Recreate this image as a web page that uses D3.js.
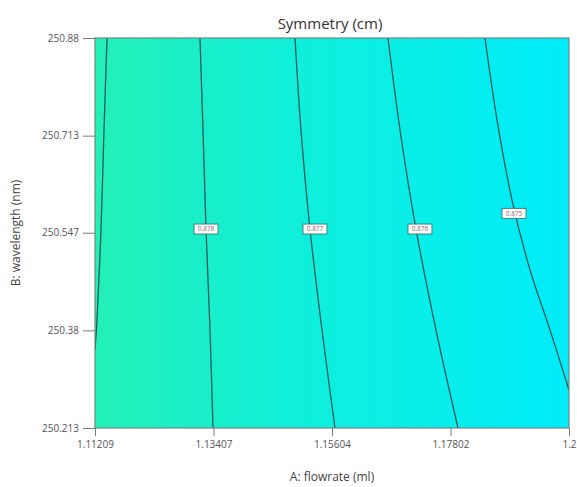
<!DOCTYPE html>
<html>
<head>
<meta charset="utf-8">
<script src="https://cdn.jsdelivr.net/npm/d3@7"></script>
<style>
  body { margin: 0; background: #fff; }
  text { font-family: "Open Sans", "Noto Sans", sans-serif; }
</style>
</head>
<body>
<script>
//chart setup
const width = 577;
const height = 487;
const margin = {top: 38, right: 8, bottom: 59, left: 95};

//axis ticks
const xTicks = [1.11209, 1.13407, 1.15604, 1.17802, 1.2];
const yTicks = [250.213, 250.38, 250.547, 250.713, 250.88];

//contour levels and their traced lines, [flowrate, wavelength]
const levels = [0.879, 0.878, 0.877, 0.876, 0.875];
const line879 = [[1.11432, 250.88], [1.11376, 250.7227], [1.11320, 250.5516], [1.11246, 250.3977], [1.11209, 250.3464]];
const line878 = [[1.13156, 250.88], [1.13212, 250.7227], [1.13268, 250.5533], [1.13342, 250.3806], [1.13397, 250.213]];
const line877 = [[1.14918, 250.88], [1.15029, 250.7227], [1.15196, 250.5533], [1.15419, 250.3806], [1.15660, 250.213]];
const line876 = [[1.16643, 250.88], [1.16866, 250.7227], [1.17162, 250.5533], [1.17533, 250.3806], [1.17941, 250.213]];
const line875 = [[1.18442, 250.88], [1.18665, 250.7398], [1.18943, 250.6029], [1.19277, 250.4832], [1.19648, 250.3806], [1.2, 250.278]];
const contourLines = [line879, line878, line877, line876, line875];
//label position on each line (null = no label shown)
const labelAt = [null, [1.13268, 250.5533], [1.15289, 250.5533], [1.17236, 250.5533], [1.18980, 250.580]];
const labelText = ["", "0.878", "0.877", "0.876", "0.875"];

//response at the left and right edge (middle height)
const edgeValues = [0.8792, 0.8744];

const x = d3.scaleLinear().domain([1.11209, 1.2]).range([margin.left, width - margin.right]);
const y = d3.scaleLinear().domain([250.213, 250.88]).range([height - margin.bottom, margin.top]);
const color = d3.scaleLinear()
  .domain([0.8792, 0.8770, 0.8744])
  .range(["#24f0b4", "#0eefdc", "#00ecfa"]);

let svg = d3.select("body").append("svg")
  .attr("width", width)
  .attr("height", height);

let defs = svg.append("defs");
defs.append("clipPath").attr("id", "plotclip")
  .append("rect")
  .attr("x", x.range()[0]).attr("y", y.range()[1])
  .attr("width", x.range()[1] - x.range()[0])
  .attr("height", y.range()[0] - y.range()[1]);

//horizontal gradient, stops where the contours cross mid height
let stops = [{off: 0, c: color(edgeValues[0])}];
contourLines.forEach((ln, i) => {
  let mid = ln.reduce((a, b) => Math.abs(b[1] - 250.547) < Math.abs(a[1] - 250.547) ? b : a);
  stops.push({off: (x(mid[0]) - x.range()[0]) / (x.range()[1] - x.range()[0]), c: color(levels[i])});
});
stops.push({off: 1, c: color(edgeValues[1])});
let grad = defs.append("linearGradient").attr("id", "fillgrad")
  .attr("x1", 0).attr("x2", 1).attr("y1", 0).attr("y2", 0);
grad.selectAll("stop").data(stops).enter().append("stop")
  .attr("offset", d => d.off)
  .attr("stop-color", d => d.c);

let plot = svg.append("g").attr("clip-path", "url(#plotclip)");
plot.append("rect")
  .attr("x", x.range()[0]).attr("y", y.range()[1])
  .attr("width", x.range()[1] - x.range()[0])
  .attr("height", y.range()[0] - y.range()[1])
  .style("fill", "url(#fillgrad)");

//contour lines
let lineGen = d3.line().x(d => x(d[0])).y(d => y(d[1])).curve(d3.curveCatmullRom);
plot.selectAll("path.contour")
  .data(contourLines)
  .enter().append("path")
  .attr("class", "contour")
  .attr("d", d => lineGen(d))
  .style("fill", "none")
  .style("stroke", "#1d5a5c")
  .style("stroke-width", 1.3);

//contour labels
let labels = plot.selectAll("g.lab")
  .data(labelAt.map((p, i) => ({p: p, t: labelText[i]})).filter(d => d.p))
  .enter().append("g")
  .attr("class", "lab")
  .attr("transform", d => "translate(" + x(d.p[0]) + "," + y(d.p[1]) + ")");
labels.append("rect")
  .attr("x", -12).attr("y", -5).attr("width", 24).attr("height", 10)
  .style("fill", "#fff").style("stroke", "#3f7f80").style("stroke-width", 1);
labels.append("text")
  .attr("text-anchor", "middle").attr("dy", "0.35em")
  .style("font-size", "6.5px").style("fill", "#8a6a6a")
  .text(d => d.t);

//frame
svg.append("rect")
  .attr("x", x.range()[0]).attr("y", y.range()[1])
  .attr("width", x.range()[1] - x.range()[0])
  .attr("height", y.range()[0] - y.range()[1])
  .style("fill", "none").style("stroke", "#6f8585").style("stroke-width", 1.2);

//axes
let xAxis = svg.append("g")
  .attr("transform", "translate(0," + y.range()[0] + ")")
  .call(d3.axisBottom(x).tickValues(xTicks).tickFormat(d => String(d)).tickSize(8).tickPadding(5));
let yAxis = svg.append("g")
  .attr("transform", "translate(" + x.range()[0] + ",0)")
  .call(d3.axisLeft(y).tickValues(yTicks).tickFormat(d => String(d)).tickSize(12).tickPadding(4));
[xAxis, yAxis].forEach(a => {
  a.select(".domain").remove();
  a.selectAll("line").style("stroke", "#7a7a7a");
  a.selectAll("text").style("font-size", "10px").style("fill", "#555").style("font-family", "\"Open Sans\", sans-serif");
});

//titles
svg.append("text")
  .attr("x", 330).attr("y", 29)
  .attr("text-anchor", "middle")
  .style("font-size", "15px").style("fill", "#333")
  .text("Symmetry (cm)");
svg.append("text")
  .attr("x", 332).attr("y", 481)
  .attr("text-anchor", "middle")
  .style("font-size", "12px").style("fill", "#444")
  .text("A: flowrate (ml)");
svg.append("text")
  .attr("transform", "translate(20,233) rotate(-90)")
  .attr("text-anchor", "middle")
  .style("font-size", "12px").style("fill", "#444")
  .text("B: wavelength (nm)");
</script>
</body>
</html>
